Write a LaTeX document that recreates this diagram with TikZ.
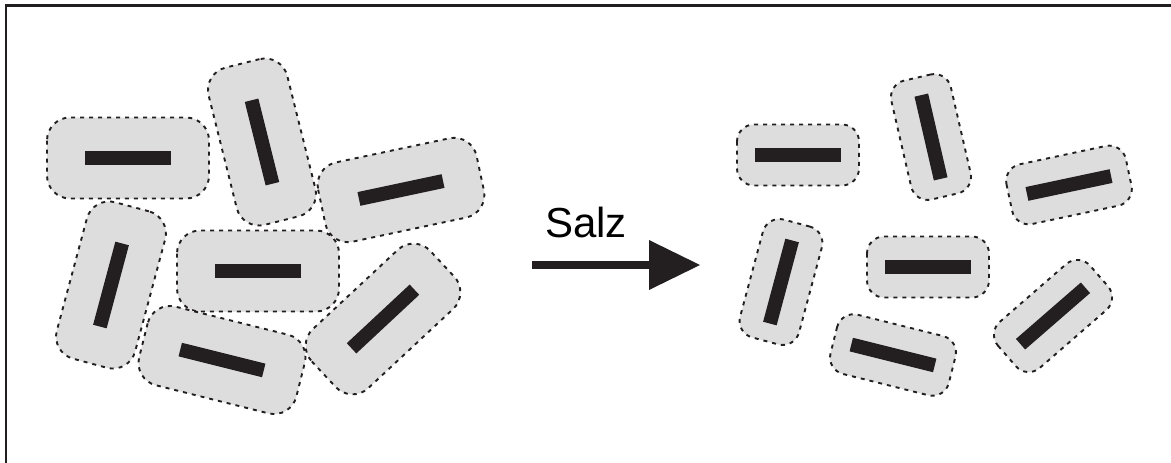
\documentclass[tikz,border=0pt]{standalone}
\usepackage{fontspec}
\setmainfont{Liberation Sans}
\definecolor{ink}{HTML}{231F20}
\definecolor{shell}{HTML}{DDDDDD}
\tikzset{
  capsule/.style={fill=shell, draw=ink, line width=1.9pt, dash pattern=on 4pt off 5pt},
  rodbar/.style={fill=ink},
  bigcell/.pic={
    \draw[capsule, rounded corners=23pt] (-81,-40.5) rectangle (81,40.5);
    \fill[rodbar] (-43,-7) rectangle (43,7);
  },
  smallcell/.pic={
    \draw[capsule, rounded corners=17pt] (-61,-30.5) rectangle (61,30.5);
    \fill[rodbar] (-43,-7) rectangle (43,7);
  },
  frameline/.style={draw=ink, line width=2.4pt},
}
\begin{document}
\begin{tikzpicture}[x=1pt,y=-1pt]
\useasboundingbox (0,0) rectangle (1171,463);
\fill[white] (0,0) rectangle (1171,463);
\draw[frameline] (6,463) -- (6,5.5) -- (1171,5.5);
% left group (crowded)
\pic[rotate=0]   at (128,158) {bigcell};
\pic[rotate=-76] at (262,142) {bigcell};
\pic[rotate=12]  at (401,190) {bigcell};
\pic[rotate=-105] at (111,285) {bigcell};
\pic[rotate=0]   at (258,271) {bigcell};
\pic[rotate=-14] at (222,360) {bigcell};
\pic[rotate=43]  at (383,319) {bigcell};
% right group (shrunk)
\pic[rotate=0]   at (798,155) {smallcell};
\pic[rotate=-77] at (931,137) {smallcell};
\pic[rotate=12]  at (1069,185) {smallcell};
\pic[rotate=-105] at (781,282) {smallcell};
\pic[rotate=0]   at (928,267) {smallcell};
\pic[rotate=-14] at (893,355) {smallcell};
\pic[rotate=41]  at (1053,316) {smallcell};
% arrow
\coordinate (tail) at (532,265);
\coordinate (tip) at (700,265);
\fill[ink] (tail) ++(0,-4) rectangle (651,269);
\fill[ink] (649,240) -- (tip) -- (649,290) -- cycle;
\node[anchor=base west, inner sep=0pt, font=\fontsize{42}{50}\selectfont] (salz) at (545,237) {Salz};
\end{tikzpicture}
\end{document}
